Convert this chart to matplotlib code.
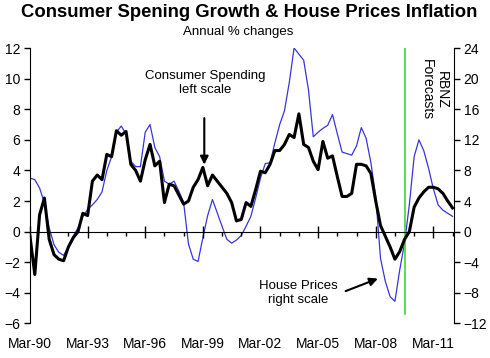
import numpy as np
import matplotlib
matplotlib.use("Agg")
import matplotlib.pyplot as plt

plt.rcParams['font.family'] = ['Liberation Sans', 'DejaVu Sans']

# quarterly, Mar-90 .. Mar-12
consumer = [-0.3, -2.8, 1.1, 2.2, -0.5, -1.5, -1.8, -1.9, -1.0, -0.4,
            0.0, 1.2, 1.05, 3.3, 3.7, 3.4, 5.05, 4.9, 6.6, 6.3,
            6.55, 4.4, 4.0, 3.3, 4.7, 5.7, 4.3, 4.6, 1.9, 3.1,
            3.0, 2.4, 1.8, 2.0, 2.9, 3.4, 4.2, 3.0, 3.7, 3.3,
            2.9, 2.5, 1.9, 0.7, 0.8, 1.9, 1.65, 2.75, 3.95, 3.85,
            4.4, 5.3, 5.3, 5.7, 6.35, 6.15, 7.7, 5.7, 5.5, 4.6,
            4.05, 5.9, 4.8, 4.95, 3.6, 2.3, 2.3, 2.5, 4.4, 4.4,
            4.3, 3.8, 2.0, 0.4, -0.3, -1.0, -1.8, -1.3, -0.5, 0.0,
            1.6, 2.2, 2.6, 2.9, 2.9, 2.8, 2.5, 2.0, 1.55]
house = [7.0, 6.8, 5.7, 3.75, 0.5, -1.7, -2.7, -3.1, -2.0, -0.6,
         0.5, 2.0, 2.9, 3.5, 4.2, 5.2, 8.0, 9.8, 13.0, 13.8,
         12.8, 9.2, 8.5, 8.5, 13.0, 14.0, 11.0, 9.8, 6.6, 6.2,
         6.6, 5.3, 3.8, -1.6, -3.6, -3.9, -0.8, 2.1, 4.2, 2.45,
         0.7, -1.0, -1.5, -1.1, -0.5, 0.7, 2.0, 4.4, 7.0, 8.9,
         9.0, 11.6, 14.0, 15.8, 19.5, 24.0, 23.2, 22.4, 18.5, 12.4,
         13.0, 13.5, 13.9, 15.3, 12.8, 10.4, 10.2, 10.0, 11.2, 13.6,
         12.2, 9.0, 4.6, -3.5, -6.5, -8.5, -9.1, -5.0, -1.5, 3.5,
         9.8, 12.0, 10.6, 8.3, 5.6, 3.5, 2.8, 2.4, 2.0]
year_labels = ['Mar-90', 'Mar-93', 'Mar-96', 'Mar-99', 'Mar-02',
               'Mar-05', 'Mar-08', 'Mar-11']
forecast_start = 78

q = np.arange(len(consumer))

fig = plt.figure(figsize=(4.9, 3.58), dpi=100)
ax = fig.add_axes([0.0612, 0.0964, 0.8653, 0.7695])
ax2 = ax.twinx()

ax2.plot(q, house, color='#3636d8', lw=0.9, zorder=2)
ax.plot(q, consumer, color='black', lw=2.2, zorder=3)
ax.set_zorder(ax2.get_zorder() + 1)
ax.patch.set_visible(False)

ax.axvline(forecast_start, ymin=(-5.4 + 6) / 18, ymax=1.0, color='#33dd33', lw=1.2)

ax.set_xlim(0, 88.3)
ax.set_ylim(-6, 12)
ax2.set_ylim(-12, 24)
ax.set_yticks(np.arange(-6, 13, 2))
ax2.set_yticks(np.arange(-12, 25, 4))

for a in (ax, ax2):
    a.spines['top'].set_visible(False)
    a.spines['bottom'].set_visible(False)
ax.spines['bottom'].set_visible(True)
ax.spines['bottom'].set_position(('data', 0))
ax2.spines['left'].set_visible(False)
ax.spines['right'].set_visible(False)

ax.tick_params(axis='y', direction='out', length=4, width=1, labelsize=10, pad=3)
ax2.tick_params(axis='y', direction='out', length=4, width=1, labelsize=10, pad=3)

major = q[::12]
ax.set_xticks(major)
ax.set_xticklabels([])
ax.set_xticks(q[::4], minor=True)
ax.tick_params(axis='x', which='major', direction='inout', length=9, width=1)
ax.tick_params(axis='x', which='minor', direction='out', length=3, width=1)

sec = ax.secondary_xaxis(0)
sec.set_xticks(major, labels=year_labels)
sec.tick_params(length=0, labelsize=10, pad=10)
sec.spines['bottom'].set_visible(False)

fig.text(0.508, 0.965, 'Consumer Spening Growth & House Prices Inflation',
         ha='center', va='center', fontsize=13.3, fontweight='bold')
fig.text(0.486, 0.91, 'Annual % changes', ha='center', va='center', fontsize=9.5)

ax.text(0.953, 0.848, 'RBNZ\nForecasts', transform=ax.transAxes, rotation=270,
        ha='center', va='center', fontsize=10, linespacing=1.1)

ax.annotate('', xy=(36.3, 4.2), xytext=(36.3, 7.6),
            arrowprops=dict(arrowstyle='-|>', color='black', lw=1.5, mutation_scale=12))
ax.text(36.5, 9.7, 'Consumer Spending\nleft scale', ha='center', va='center',
        fontsize=9.5, linespacing=1.2)
ax2.annotate('', xy=(73, -6.0), xytext=(65.2, -7.9),
             arrowprops=dict(arrowstyle='-|>', color='black', lw=1.5, mutation_scale=12))
ax2.text(55.8, -8.0, 'House Prices\nright scale', ha='center', va='center',
         fontsize=9.5, linespacing=1.2)

fig.savefig('out.png', dpi=100)
